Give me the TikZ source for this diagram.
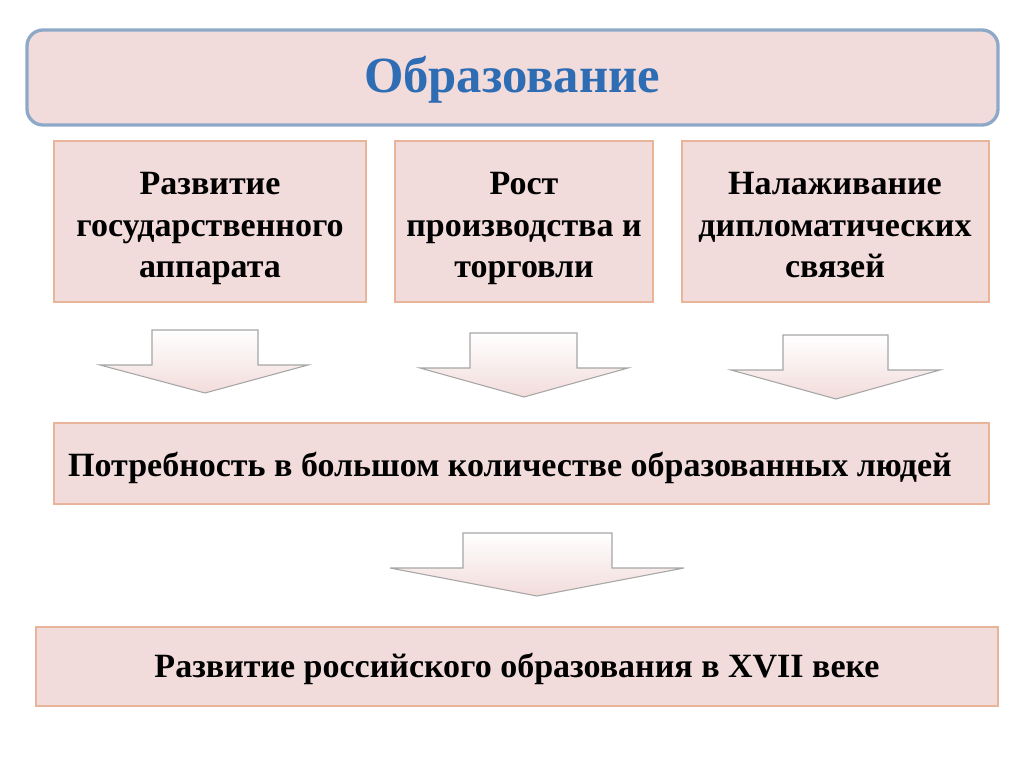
\documentclass[tikz,border=0pt]{standalone}
\usepackage{fontspec}
\setmainfont{Liberation Serif}
\begin{document}
\begin{tikzpicture}[x=0.75pt,y=-0.75pt]
\definecolor{boxfill}{HTML}{F2DCDB}
\definecolor{boxline}{HTML}{E8B49A}
\definecolor{titleline}{HTML}{8EA9C8}
\definecolor{titletext}{HTML}{2E6DB4}
\tikzset{
 pbox/.style={draw=boxline,line width=1pt,fill=boxfill},
 btext/.style={font=\bfseries\fontsize{25.5}{31}\selectfont,align=center,text=black},
 darrow/.style={draw=black!35,line width=0.8pt,top color=white,bottom color=boxfill}
}
\useasboundingbox (0,0) rectangle (1024,767);
\fill[white] (0,0) rectangle (1024,767);
\draw[draw=titleline,line width=2.5pt,fill=boxfill,rounded corners=12pt] (27,30) rectangle (998,125);
\node[font=\bfseries\fontsize{38}{42}\selectfont,text=titletext] (t) at (512,80) {Образование};
\draw[pbox] (54,141) rectangle (366,302);
\node[btext,anchor=north] (a) at (210,168) {Развитие\\государственного\\аппарата};
\draw[pbox] (395,141) rectangle (653,302);
\node[btext,anchor=north] (b) at (524,168) {Рост\\производства и\\торговли};
\draw[pbox] (682,141) rectangle (989,302);
\node[btext,anchor=north] (c) at (835,168) {Налаживание\\дипломатических\\связей};
\draw[darrow] (152,330) -- (258,330) -- (258,365) -- (308,365) -- (205,393) -- (100,365) -- (152,365) -- cycle;
\draw[darrow] (470,333) -- (577,333) -- (577,368) -- (628,368) -- (524,397) -- (420,368) -- (470,368) -- cycle;
\draw[darrow] (783,335) -- (888,335) -- (888,370) -- (940,370) -- (836,399) -- (731,370) -- (783,370) -- cycle;
\draw[pbox] (54,423) rectangle (989,504);
\node[btext] (d) at (510,468) {Потребность в большом количестве образованных людей};
\draw[darrow] (463,533) -- (612,533) -- (612,568) -- (684,568) -- (537,596) -- (390,568) -- (463,568) -- cycle;
\draw[pbox] (36,627) rectangle (998,706);
\node[btext] (e) at (517,669) {Развитие российского образования в XVII веке};
\end{tikzpicture}
\end{document}
